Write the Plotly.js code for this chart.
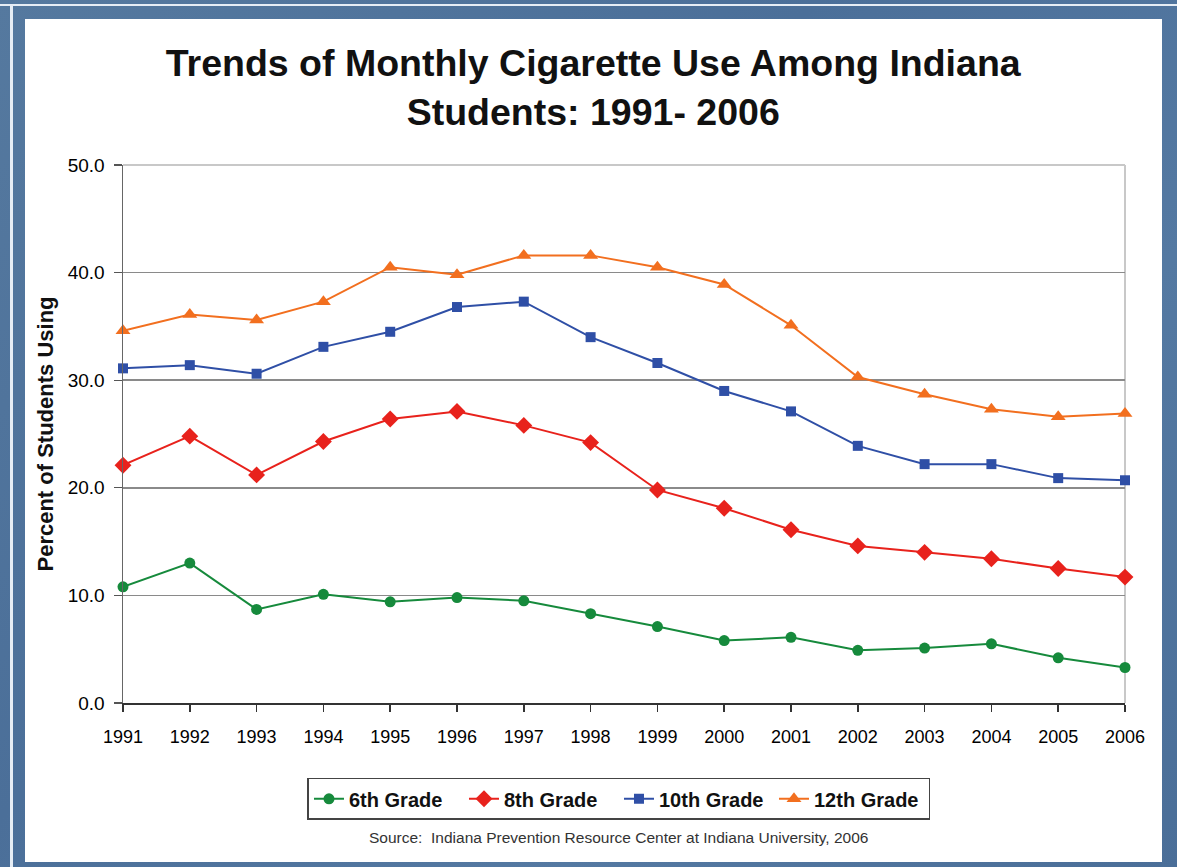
<!DOCTYPE html>
<html>
<head>
<meta charset="utf-8">
<script src="https://cdn.plot.ly/plotly-3.0.1.min.js"></script>
<style>
  body { margin: 0; }
  #wrap { position: relative; width: 1177px; height: 867px; overflow: hidden;
          background: linear-gradient(135deg, #55799f 0%, #4b6f99 40%, #5479a2 70%, #4a6e98 100%); }
  .ln { position: absolute; background: #e6edf5; }
  #panel { position: absolute; left: 25px; top: 19px; width: 1137px; height: 843px; background: #ffffff; }
  #chart { position: absolute; left: 0; top: 0; width: 1177px; height: 867px; }
</style>
</head>
<body>
<div id="wrap">
  <div class="ln" style="left:0;top:4px;width:1177px;height:2px;"></div>
  <div class="ln" style="left:10px;top:4px;width:3px;height:863px;"></div>
  <div id="panel"></div>
  <div id="chart"></div>
</div>
<script>
const years = [1991,1992,1993,1994,1995,1996,1997,1998,1999,2000,2001,2002,2003,2004,2005,2006];
const grade6  = [10.8,13.0,8.7,10.1,9.4,9.8,9.5,8.3,7.1,5.8,6.1,4.9,5.1,5.5,4.2,3.3];
const grade8  = [22.1,24.8,21.2,24.3,26.4,27.1,25.8,24.2,19.8,18.1,16.1,14.6,14.0,13.4,12.5,11.7];
const grade10 = [31.1,31.4,30.6,33.1,34.5,36.8,37.3,34.0,31.6,29.0,27.1,23.9,22.2,22.2,20.9,20.7];
const grade12 = [34.6,36.1,35.6,37.3,40.5,39.8,41.6,41.6,40.5,38.9,35.1,30.3,28.7,27.3,26.6,26.9];
const seriesNames = ['6th Grade','8th Grade','10th Grade','12th Grade'];
const yTicks = [0,10,20,30,40,50];

const FONT = 'Arial, "Liberation Sans", Helvetica, sans-serif';

function tr(y, name, color, symbol, size) {
  return {
    x: years, y: y, name: name, type: 'scatter', mode: 'lines+markers',
    line: {color: color, width: 2},
    marker: {color: color, symbol: symbol, size: size},
    cliponaxis: false
  };
}

const data = [
  tr(grade6,  seriesNames[0], '#168a3c', 'circle', 11),
  tr(grade8,  seriesNames[1], '#e8221c', 'diamond', 13),
  tr(grade10, seriesNames[2], '#2f4fa6', 'square', 10),
  tr(grade12, seriesNames[3], '#f26f1f', 'triangle-up', 13)
];

const layout = {
  width: 1177, height: 867,
  margin: {l: 123, r: 52, t: 165, b: 164},
  paper_bgcolor: 'rgba(0,0,0,0)',
  plot_bgcolor: 'rgba(0,0,0,0)',
  font: {family: FONT, color: '#111'},
  showlegend: true,
  title: {
    text: '<b>Trends of Monthly Cigarette Use Among Indiana<br>Students: 1991- 2006</b>',
    font: {size: 37.5, family: FONT, color: '#111'},
    xref: 'container', x: 0.504, xanchor: 'center',
    yref: 'container', y: 0.912, yanchor: 'top'
  },
  xaxis: {
    range: [1991, 2006], tickvals: years, ticktext: years.map(String),
    showgrid: false, zeroline: false,
    showline: true, linecolor: '#333', linewidth: 2,
    ticks: 'outside', ticklen: 7, tickcolor: '#333', tickwidth: 1.5,
    ticklabelstandoff: 9,
    tickfont: {size: 18, family: FONT, color: '#000'}
  },
  yaxis: {
    range: [0, 50], tickvals: yTicks, tickformat: '.1f',
    showgrid: true, gridcolor: '#8a8a8a', gridwidth: 1.5,
    zeroline: false,
    showline: true, linecolor: '#666', linewidth: 1.5,
    ticks: 'outside', ticklen: 8, tickcolor: '#555', tickwidth: 1.2,
    ticklabelstandoff: 5,
    tickfont: {size: 19, family: FONT, color: '#000'},
    title: {text: '<b>Percent of Students Using</b>', font: {size: 22, family: FONT, color: '#111'}, standoff: 8}
  },
  legend: {
    orientation: 'h', xref: 'paper', yref: 'paper',
    x: 0.495, xanchor: 'center', y: -0.139, yanchor: 'top',
    bgcolor: '#ffffff', bordercolor: '#444', borderwidth: 1.5,
    font: {size: 20, family: FONT, color: '#111', weight: 'bold'},
    itemwidth: 30, entrywidth: 110, entrywidthmode: 'pixels'
  },
  shapes: [
    {type: 'line', xref: 'paper', yref: 'paper', x0: 0, x1: 1, y0: 1, y1: 1, line: {color: '#c8c8c8', width: 2}, layer: 'above'},
    {type: 'line', xref: 'paper', yref: 'paper', x0: 1, x1: 1, y0: 0, y1: 1, line: {color: '#c8c8c8', width: 2}, layer: 'below'}
  ],
  annotations: [
    {text: 'Source:  Indiana Prevention Resource Center at Indiana University, 2006',
     xref: 'paper', yref: 'paper', x: 0.495, y: -0.25, xanchor: 'center', yanchor: 'middle',
     showarrow: false, font: {size: 15.5, family: FONT, color: '#333'}}
  ]
};

Plotly.newPlot('chart', data, layout, {displayModeBar: false, staticPlot: true});
</script>
</body>
</html>
